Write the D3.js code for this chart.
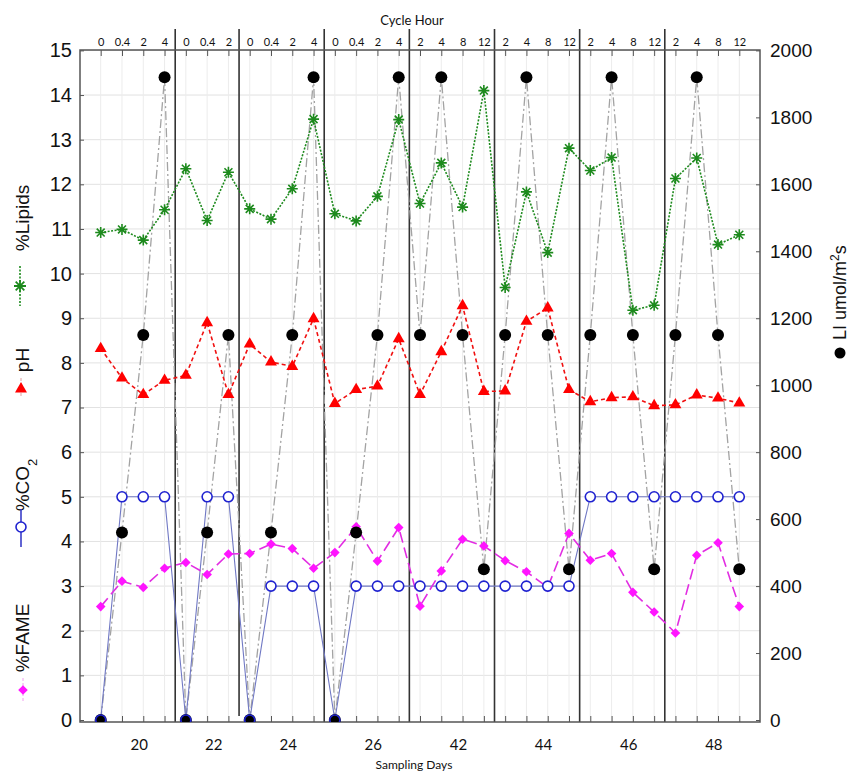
<!DOCTYPE html>
<html>
<head>
<meta charset="utf-8">
<script src="https://cdn.jsdelivr.net/npm/d3@7"></script>
<style>
  body { margin: 0; background: #fff; }
  svg { display: block; }
  .num { font-family: "Liberation Sans", Arial, sans-serif; fill: #111; }
  .cal { font-family: Lato, "Open Sans", sans-serif; fill: #111; }
</style>
</head>
<body>
<svg id="chart" width="850" height="774"></svg>
<script>
// sampling days and the cycle hours sampled on each of them
const days = [20, 22, 24, 26, 42, 44, 46, 48];
const cycleHours = [
  [0, 0.4, 2, 4],
  [0, 0.4, 2],
  [0, 0.4, 2, 4],
  [0, 0.4, 2, 4],
  [2, 4, 8, 12],
  [2, 4, 8, 12],
  [2, 4, 8, 12],
  [2, 4, 8, 12]
];

// series, one value per sample
const lipids = [10.92, 10.99, 10.75, 11.43, 12.35, 11.19, 12.27, 11.45, 11.22, 11.90, 13.46,
  11.34, 11.18, 11.73, 13.45, 11.57, 12.48, 11.49, 14.10, 9.69, 11.83, 10.47, 12.81,
  12.31, 12.60, 9.18, 9.29, 12.13, 12.59, 10.65, 10.87];
const ph = [8.32, 7.66, 7.29, 7.61, 7.72, 8.90, 7.29, 8.42, 8.02, 7.92, 8.99,
  7.09, 7.40, 7.48, 8.54, 7.29, 8.25, 9.28, 7.36, 7.37, 8.93, 9.23, 7.40,
  7.13, 7.22, 7.24, 7.04, 7.06, 7.28, 7.21, 7.10];
const co2 = [0, 5, 5, 5, 0, 5, 5, 0, 3, 3, 3,
  0, 3, 3, 3, 3, 3, 3, 3, 3, 3, 3, 3,
  5, 5, 5, 5, 5, 5, 5, 5];
const fame = [2.54, 3.11, 2.97, 3.40, 3.53, 3.26, 3.72, 3.73, 3.94, 3.84, 3.40,
  3.75, 4.33, 3.56, 4.31, 2.55, 3.34, 4.05, 3.90, 3.57, 3.32, 2.97, 4.18,
  3.58, 3.73, 2.86, 2.42, 1.95, 3.69, 3.97, 2.54];
const light = [0, 560, 1150, 1920, 0, 560, 1150, 0, 560, 1150, 1920,
  0, 560, 1150, 1920, 1150, 1920, 1150, 450, 1150, 1920, 1150, 450,
  1150, 1920, 1150, 450, 1150, 1920, 1150, 450];

const leftTicks = [0, 1, 2, 3, 4, 5, 6, 7, 8, 9, 10, 11, 12, 13, 14, 15];
const rightTicks = [0, 200, 400, 600, 800, 1000, 1200, 1400, 1600, 1800, 2000];

// flatten samples
const samples = [];
const segments = [];
cycleHours.forEach((hours, s) => {
  const start = samples.length;
  hours.forEach(h => samples.push({ day: days[s], hour: h }));
  segments.push({ day: days[s], start, end: samples.length - 1 });
});
samples.forEach((d, i) => {
  d.i = i;
  d.lipids = lipids[i];
  d.ph = ph[i];
  d.co2 = co2[i];
  d.fame = fame[i];
  d.light = light[i];
});

const svg = d3.select('#chart');
const box = { left: 80, right: 760, top: 50, bottom: 722 };

const x = d3.scaleLinear().domain([0, samples.length - 1]).range([100.7, 739.3]);
const yL = d3.scaleLinear().domain([0, 15]).range([720, 50.4]);
const yR = d3.scaleLinear().domain([0, 2000]).range([720, 50.4]);

svg.append('defs').append('clipPath').attr('id', 'plotclip')
  .append('rect')
  .attr('x', box.left).attr('y', box.top)
  .attr('width', box.right - box.left).attr('height', box.bottom - box.top);

// grid
const grid = svg.append('g');
grid.selectAll('line.h').data(leftTicks.slice(1)).join('line')
  .attr('x1', box.left).attr('x2', box.right)
  .attr('y1', d => yL(d)).attr('y2', d => yL(d))
  .attr('stroke', '#e2e2e2').attr('stroke-width', 1);
grid.selectAll('line.v').data(samples).join('line')
  .attr('x1', d => x(d.i)).attr('x2', d => x(d.i))
  .attr('y1', box.top).attr('y2', box.bottom)
  .attr('stroke', '#ececec').attr('stroke-width', 1);

// segment separators (the one before day 24 stops short of the axis)
const seps = segments.slice(1).map(s => ({ at: s.start - 0.5, short: s.day === 24 }));
svg.append('g').selectAll('line').data(seps).join('line')
  .attr('x1', d => x(d.at)).attr('x2', d => x(d.at))
  .attr('y1', 29).attr('y2', d => d.short ? 716 : box.bottom)
  .attr('stroke', '#333').attr('stroke-width', 1.6);

// frame
svg.append('rect')
  .attr('x', box.left).attr('y', box.top)
  .attr('width', box.right - box.left).attr('height', box.bottom - box.top)
  .attr('fill', 'none').attr('stroke', '#555').attr('stroke-width', 1.5);

// axes
const topAxis = svg.append('g')
  .attr('transform', `translate(0,${box.top})`)
  .call(d3.axisTop(x).tickValues(samples.map(d => d.i))
    .tickFormat(i => samples[i].hour).tickSizeInner(-6).tickSizeOuter(0).tickPadding(4));
topAxis.selectAll('text').attr('class', 'cal').style('font-size', '11px');

const bottomAxis = svg.append('g')
  .attr('transform', `translate(0,${box.bottom})`)
  .call(d3.axisBottom(x).tickValues(samples.map(d => d.i))
    .tickFormat('').tickSizeInner(-6).tickSizeOuter(0));

const dayAxis = svg.append('g')
  .attr('transform', `translate(6,${box.bottom})`)
  .call(d3.axisBottom(x).tickValues(segments.map(s => (s.start + s.end) / 2))
    .tickFormat((v, k) => segments[k].day).tickSize(0).tickPadding(17));
dayAxis.selectAll('text').attr('class', 'cal').style('font-size', '15px');

const leftAxis = svg.append('g')
  .attr('transform', `translate(${box.left},0)`)
  .call(d3.axisLeft(yL).tickValues(leftTicks).tickSizeInner(-4).tickSizeOuter(0).tickPadding(8));
leftAxis.selectAll('text').attr('class', 'num').style('font-size', '20px');

const rightAxis = svg.append('g')
  .attr('transform', `translate(${box.right},0)`)
  .call(d3.axisRight(yR).tickValues(rightTicks).tickFormat(d3.format('d'))
    .tickSizeInner(-4).tickSizeOuter(0).tickPadding(10));
rightAxis.selectAll('text').attr('class', 'num').style('font-size', '19px');

[topAxis, bottomAxis, dayAxis, leftAxis, rightAxis].forEach(a => {
  a.select('.domain').remove();
  a.selectAll('line').attr('stroke', '#555');
});

svg.append('text').attr('class', 'cal')
  .attr('x', 412).attr('y', 25).attr('text-anchor', 'middle')
  .style('font-size', '13px').text('Cycle Hour');
svg.append('text').attr('class', 'cal')
  .attr('x', 414).attr('y', 769).attr('text-anchor', 'middle')
  .style('font-size', '12px').text('Sampling Days');

// markers
const asterisk = r => {
  const k = r * 0.72;
  return `M${-r},0H${r}M0,${-r}V${r}M${-k},${-k}L${k},${k}M${-k},${k}L${k},${-k}`;
};
const triangle = d3.symbol(d3.symbolTriangle, 62)();
const diamond = d3.symbol(d3.symbolSquare, 46)();

const lineL = key => d3.line().x(d => x(d.i)).y(d => yL(d[key]));
const lineR = key => d3.line().x(d => x(d.i)).y(d => yR(d[key]));

const plot = svg.append('g').attr('clip-path', 'url(#plotclip)');

// lines
plot.append('path').datum(samples).attr('d', lineR('light'))
  .attr('fill', 'none').attr('stroke', '#a3a3a3').attr('stroke-width', 1.3)
  .attr('stroke-dasharray', '9,3,2,3');
plot.append('path').datum(samples).attr('d', lineL('co2'))
  .attr('fill', 'none').attr('stroke', '#7078c4').attr('stroke-width', 1.1);
plot.append('path').datum(samples).attr('d', lineL('fame'))
  .attr('fill', 'none').attr('stroke', '#e22de2').attr('stroke-width', 1.6)
  .attr('stroke-dasharray', '11,5');
plot.append('path').datum(samples).attr('d', lineL('ph'))
  .attr('fill', 'none').attr('stroke', '#f01010').attr('stroke-width', 1.6)
  .attr('stroke-dasharray', '4,3');
plot.append('path').datum(samples).attr('d', lineL('lipids'))
  .attr('fill', 'none').attr('stroke', '#1d8a1d').attr('stroke-width', 1.6)
  .attr('stroke-dasharray', '2,1.5');

// point marks
plot.append('g').selectAll('path').data(samples).join('path')
  .attr('d', diamond).attr('fill', '#ff14ff')
  .attr('transform', d => `translate(${x(d.i)},${yL(d.fame)}) rotate(45)`);
plot.append('g').selectAll('circle').data(samples).join('circle')
  .attr('cx', d => x(d.i)).attr('cy', d => yR(d.light)).attr('r', 6)
  .attr('fill', '#000');
plot.append('g').selectAll('circle').data(samples).join('circle')
  .attr('cx', d => x(d.i)).attr('cy', d => yL(d.co2)).attr('r', 5)
  .attr('fill', '#fff').attr('fill-opacity', d => d.co2 === 0 ? 0 : 1)
  .attr('stroke', '#1f22d0').attr('stroke-width', 1.6);
plot.append('g').selectAll('path').data(samples).join('path')
  .attr('d', triangle).attr('fill', '#ff0000')
  .attr('transform', d => `translate(${x(d.i)},${yL(d.ph)})`);
plot.append('g').selectAll('path').data(samples).join('path')
  .attr('d', asterisk(5.5)).attr('fill', 'none')
  .attr('stroke', '#1d8a1d').attr('stroke-width', 1.6)
  .attr('transform', d => `translate(${x(d.i)},${yL(d.lipids)})`);

// left legend (rotated labels with sample marks)
const legend = svg.append('g');
function rotLabel(g, xx, yy, size) {
  return g.append('text').attr('class', 'num')
    .attr('transform', `translate(${xx},${yy}) rotate(-90)`)
    .attr('text-anchor', 'middle').style('font-size', size + 'px');
}
function vline(g, xx, y1, y2, color, dash, w) {
  g.append('line').attr('x1', xx).attr('x2', xx).attr('y1', y1).attr('y2', y2)
    .attr('stroke', color).attr('stroke-width', w).attr('stroke-dasharray', dash);
}

rotLabel(legend, 29, 218, 19).text('%Lipids');
vline(legend, 20, 266, 306, '#1d8a1d', '2,1.5', 1.6);
legend.append('path').attr('d', asterisk(6)).attr('fill', 'none')
  .attr('stroke', '#1d8a1d').attr('stroke-width', 1.8)
  .attr('transform', 'translate(20,286)');

rotLabel(legend, 29, 360, 19).text('pH');
vline(legend, 21, 378, 398, '#e0a0a0', '3,2', 1);
legend.append('path').attr('d', triangle).attr('fill', '#ff0000')
  .attr('transform', 'translate(21,389)');

const co2Label = rotLabel(legend, 29, 485, 19);
co2Label.append('tspan').text('%CO');
co2Label.append('tspan').attr('baseline-shift', 'sub').style('font-size', '13px').text('2');
vline(legend, 21, 509, 547, '#3a3ec8', null, 1.6);
legend.append('circle').attr('cx', 21).attr('cy', 527).attr('r', 5)
  .attr('fill', '#fff').attr('stroke', '#1f22d0').attr('stroke-width', 1.6);

rotLabel(legend, 29, 638, 19).text('%FAME');
vline(legend, 23, 678, 702, '#f0a0f0', '3,2', 1);
legend.append('path').attr('d', diamond).attr('fill', '#ff14ff')
  .attr('transform', 'translate(23,690) rotate(45)');

// right legend
const liLabel = legend.append('text').attr('class', 'num')
  .attr('transform', 'translate(846,340) rotate(-90)')
  .attr('text-anchor', 'start').style('font-size', '18px');
liLabel.append('tspan').text('LI umol/m');
liLabel.append('tspan').attr('baseline-shift', 'super').style('font-size', '12px').text('2');
liLabel.append('tspan').text('s');
legend.append('circle').attr('cx', 840).attr('cy', 353).attr('r', 5.5).attr('fill', '#000');
</script>
</body>
</html>
